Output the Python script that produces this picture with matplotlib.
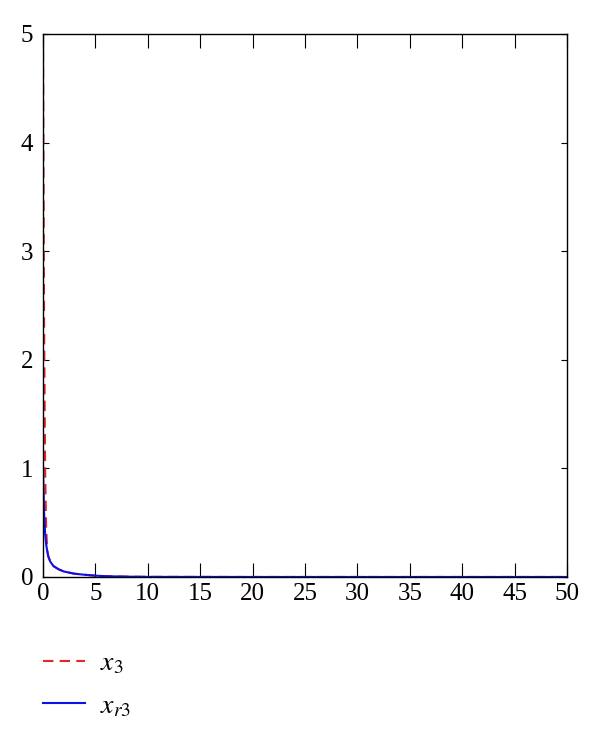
import numpy as np
import matplotlib.pyplot as plt

plt.rcParams['font.family'] = ['Liberation Serif', 'DejaVu Serif']
plt.rcParams['mathtext.fontset'] = 'stix'

t = [0, 0.05, 0.1, 0.2, 0.3, 0.4, 0.5, 0.7, 1.0, 1.5, 2.0, 3.0, 4.0, 5.0, 6.0, 8.0, 10, 20, 30, 40, 50]
x3 = [5.0, 3.6, 2.4, 1.0, 0.45, 0.25, 0.19, 0.14, 0.1, 0.07, 0.05, 0.03, 0.02, 0.012, 0.007, 0.003, 0.001, 0, 0, 0, 0]
xr3 = [1.0, 0.8, 0.6, 0.4, 0.3, 0.24, 0.19, 0.14, 0.1, 0.07, 0.05, 0.03, 0.02, 0.012, 0.007, 0.003, 0.001, 0, 0, 0, 0]

fig = plt.figure(figsize=(6, 7.38), dpi=100)
ax = fig.add_axes([0.0717, 0.2182, 0.8733, 0.7358])

l1, = ax.plot(t, x3, '--', color='#e0282a', lw=1.5, dashes=(5, 3))
l2, = ax.plot(t, xr3, '-', color='#1010e8', lw=1.5)

ax.set_xlim(0, 50)
ax.set_ylim(0, 5)
ax.set_xticks(range(0, 51, 5))
ax.set_yticks(range(0, 6))
ax.tick_params(axis='x', direction='in', top=True, length=10, labelsize=18, pad=4)
ax.tick_params(axis='y', direction='in', right=True, length=4, labelsize=18, pad=7)
for s in ax.spines.values():
    s.set_linewidth(1.0)

fig.legend([l1, l2], ['$x_3$', '$x_{r3}$'], loc='upper left', bbox_to_anchor=(0.0717, 0.118),
           frameon=False, fontsize=20, handlelength=1.5, handletextpad=0.55, labelspacing=0.62,
           borderpad=0, borderaxespad=0)

fig.savefig('out.png', dpi=100)
